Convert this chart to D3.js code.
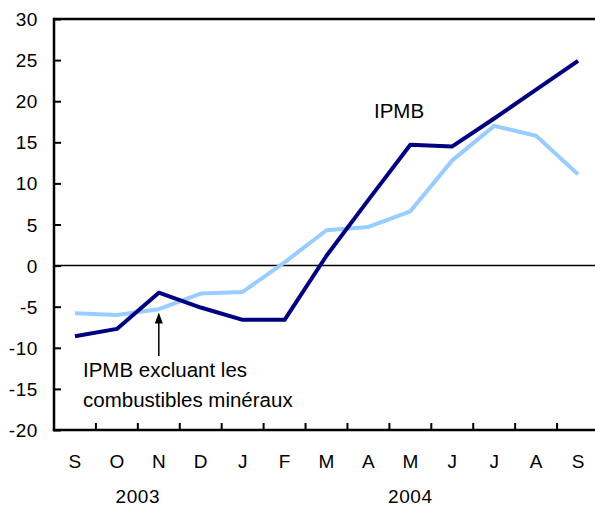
<!DOCTYPE html>
<html><head><meta charset="utf-8">
<script src="https://cdn.jsdelivr.net/npm/d3@7"></script>
<style>body{margin:0;background:#fff}svg{display:block}text{font-family:"Liberation Sans",Arial,Helvetica,sans-serif;fill:#000}</style>
</head><body><svg id="c" width="595" height="509"></svg>
<script>
const months = ["S","O","N","D","J","F","M","A","M","J","J","A","S"];
const ipmb = [-8.6,-7.7,-3.3,-5.1,-6.6,-6.6,1.2,8.0,14.7,14.5,17.9,21.4,24.9];
const ipmbExcl = [-5.8,-6.0,-5.3,-3.4,-3.2,0.4,4.3,4.7,6.6,12.8,17.0,15.8,11.1];
const yTicks = [30,25,20,15,10,5,0,-5,-10,-15,-20];
const years = [{label:"2003", from:0, to:3},{label:"2004", from:4, to:12}];

const svg = d3.select("#c");
const L = 54, R = 599, T = 19, B = 430;
const x = d3.scaleBand().domain(d3.range(months.length)).range([L, R]).padding(0);
const cx = i => x(i) + x.bandwidth()/2;
const y = d3.scaleLinear().domain([-20, 30]).range([B, T]);

// top border
svg.append("line").attr("x1", L).attr("x2", 595).attr("y1", T).attr("y2", T)
  .attr("stroke", "#000").attr("stroke-width", 2.5);
// zero line
svg.append("line").attr("x1", L).attr("x2", 595).attr("y1", y(0)).attr("y2", y(0))
  .attr("stroke", "#000").attr("stroke-width", 1.5);

// y axis
const ya = svg.append("g").attr("transform", `translate(${L},0)`)
  .call(d3.axisRight(y).tickValues(yTicks).tickSize(7).tickFormat(""));
ya.select(".domain").remove();
ya.selectAll(".tick line").attr("stroke", "#000").attr("stroke-width", 2);
svg.append("line").attr("x1", L).attr("x2", L).attr("y1", T - 1.25).attr("y2", B + 1.25)
  .attr("stroke", "#000").attr("stroke-width", 2.5);
svg.selectAll(".ylab").data(yTicks).join("text").attr("class","ylab")
  .attr("x", 38).attr("y", d => y(d) + 2).attr("text-anchor", "end")
  .attr("dominant-baseline", "middle").attr("font-size", 19).attr("letter-spacing", 0.6).text(d => d);

// x axis
const xa = svg.append("g").attr("transform", `translate(0,${B})`)
  .call(d3.axisTop(x).tickSize(0).tickFormat(""));
xa.select(".domain").remove();
xa.selectAll(".tick").remove();
svg.selectAll(".xt").data(d3.range(1, months.length)).join("line").attr("class","xt")
  .attr("x1", d => x(d)).attr("x2", d => x(d)).attr("y1", B).attr("y2", B - 7)
  .attr("stroke", "#000").attr("stroke-width", 2);
svg.append("line").attr("x1", L - 1.25).attr("x2", 595).attr("y1", B).attr("y2", B)
  .attr("stroke", "#000").attr("stroke-width", 2.5);
svg.selectAll(".xlab").data(months).join("text").attr("class","xlab")
  .attr("x", (d,i) => cx(i)).attr("y", 468).attr("text-anchor", "middle")
  .attr("font-size", 19).text(d => d);
svg.selectAll(".yr").data(years).join("text").attr("class","yr")
  .attr("x", d => (cx(d.from) + cx(d.to))/2).attr("y", 503).attr("text-anchor", "middle")
  .attr("font-size", 19).attr("letter-spacing", 0.6).text(d => d.label);

// lines
const line = d3.line().x((d,i) => cx(i)).y(d => y(d));
svg.append("path").datum(ipmbExcl).attr("d", line).attr("fill", "none")
  .attr("stroke", "#99ccff").attr("stroke-width", 4).attr("stroke-linejoin", "round");
svg.append("path").datum(ipmb).attr("d", line).attr("fill", "none")
  .attr("stroke", "#000080").attr("stroke-width", 4).attr("stroke-linejoin", "round");

// annotations
svg.append("text").attr("x", 374).attr("y", 118).attr("font-size", 20.5).text("IPMB");
const ax = cx(2);
svg.append("line").attr("x1", ax).attr("x2", ax).attr("y1", 356).attr("y2", 322)
  .attr("stroke", "#000").attr("stroke-width", 1.5);
svg.append("path").attr("d", `M${ax},${y(-5.7)} L${ax-4},${y(-5.7)+11} L${ax+4},${y(-5.7)+11} Z`).attr("fill", "#000");
svg.append("text").attr("x", 83).attr("y", 377).attr("font-size", 20.5).text("IPMB excluant les");
svg.append("text").attr("x", 83).attr("y", 407).attr("font-size", 20.5).text("combustibles minéraux");
</script></body></html>
